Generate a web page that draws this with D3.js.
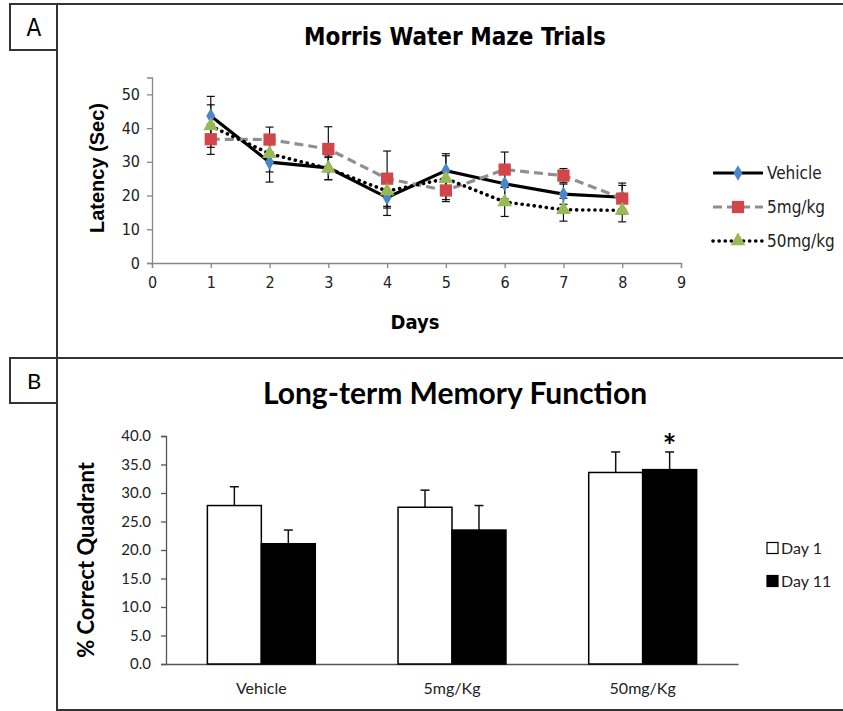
<!DOCTYPE html>
<html>
<head>
<meta charset="utf-8">
<script src="https://cdn.jsdelivr.net/npm/d3@7"></script>
<style>
  body { margin: 0; background: #fff; }
  .narrow { font-family: 'Liberation Sans Narrow', 'DejaVu Sans Condensed', sans-serif; }
  .calib { font-family: Lato, 'Open Sans', sans-serif; }
</style>
</head>
<body>
<svg id="fig" width="843" height="711"></svg>
<script>
// ------------------------------------
// Data: panel A (latency per day)
// ------------------------------------
const days = [1, 2, 3, 4, 5, 6, 7, 8];
const vehicle    = [43.6, 29.9, 28.2, 19.4, 27.4, 23.5, 20.4, 19.5];
const vehicleErr = [5.8, 5.9, 3.5, 5.3, 5.0, 4.5, 3.0, 3.5];
const mg5        = [36.7, 36.6, 33.8, 25.0, 21.5, 27.7, 25.9, 19.1];
const mg5Err     = [4.5, 3.7, 6.6, 8.2, 2.7, 5.2, 2.1, 4.6];
const mg50       = [40.6, 32.4, 28.0, 21.3, 25.0, 18.1, 15.8, 15.6];
const mg50Err    = [6.3, 5.4, 3.3, 5.0, 6.8, 4.3, 3.4, 3.4];
const seriesNames = ["Vehicle", "5mg/kg", "50mg/kg"];
const latencyTicks = [0, 10, 20, 30, 40, 50];
const dayTicks = [0, 1, 2, 3, 4, 5, 6, 7, 8, 9];

// ------------------------------------
// Data: panel B (memory function)
// ------------------------------------
const groups = ["Vehicle", "5mg/Kg", "50mg/Kg"];
const sessions = ["Day 1", "Day 11"];
const day1Vals  = [27.8, 27.5, 33.6];
const day1Err   = [3.3, 3.0, 3.6];
const day11Vals = [21.1, 23.5, 34.1];
const day11Err  = [2.4, 4.3, 3.1];
const pctTicks = [0, 5, 10, 15, 20, 25, 30, 35, 40];

const svg = d3.select("#fig");
const frame = "#333";

// ------------------------------------
// Frames and panel labels
// ------------------------------------
svg.append("path")
  .attr("d", "M10,4 H843 M57,4 V710 H843 M10,358 H843")
  .attr("fill", "none").attr("stroke", frame).attr("stroke-width", 2);
svg.append("rect").attr("x", 10).attr("y", 4).attr("width", 47).attr("height", 46)
  .attr("fill", "none").attr("stroke", frame).attr("stroke-width", 2);
svg.append("rect").attr("x", 10).attr("y", 358).attr("width", 47).attr("height", 45)
  .attr("fill", "none").attr("stroke", frame).attr("stroke-width", 2);
svg.append("text").attr("class", "narrow").attr("x", 34).attr("y", 36)
  .attr("text-anchor", "middle").attr("font-size", 24).text("A");
svg.append("text").attr("class", "calib").attr("x", 34).attr("y", 389)
  .attr("text-anchor", "middle").attr("font-size", 22).text("B");

// ------------------------------------
// Panel A: line chart
// ------------------------------------
const gA = svg.append("g");
const x = d3.scaleLinear().domain([0, 9]).range([152, 681]);
const y = d3.scaleLinear().domain([0, 55]).range([263, 77.5]);
const axisCol = "#868686";

gA.append("text").attr("class", "narrow").attr("x", 455).attr("y", 45)
  .attr("text-anchor", "middle").attr("font-size", 24).attr("font-weight", "bold")
  .text("Morris Water Maze Trials");

const yAxA = gA.append("g").attr("transform", `translate(${x(0)},0)`)
  .call(d3.axisLeft(y).tickValues(latencyTicks).tickSize(5).tickPadding(7));
const xAxA = gA.append("g").attr("transform", `translate(0,${y(0)})`)
  .call(d3.axisBottom(x).tickValues(dayTicks).tickSize(5).tickPadding(9));
[yAxA, xAxA].forEach(a => {
  a.select(".domain").attr("stroke", axisCol).attr("stroke-width", 1.3);
  a.selectAll(".tick line").attr("stroke", axisCol).attr("stroke-width", 1.3);
  a.selectAll("text").attr("class", "narrow").attr("font-size", 16).attr("fill", "#222");
});

gA.append("text").attr("x", 415).attr("y", 329).attr("class", "narrow")
  .attr("text-anchor", "middle").attr("font-size", 20).attr("font-weight", "bold").text("Days");
gA.append("text").attr("transform", "translate(104,168) rotate(-90)")
  .attr("text-anchor", "middle").attr("font-family", "'Liberation Sans', Arial, sans-serif")
  .attr("font-size", 20).attr("font-weight", "bold").text("Latency (Sec)");

const seriesA = [
  { name: seriesNames[0], vals: vehicle, err: vehicleErr, stroke: "#000", dash: null, cap: "butt", marker: d3.symbolDiamond, size: 70, fill: "#4a86c8" },
  { name: seriesNames[1], vals: mg5, err: mg5Err, stroke: "#8f8f8f", dash: "9,5", cap: "butt", marker: d3.symbolSquare, size: 150, fill: "#d0464a" },
  { name: seriesNames[2], vals: mg50, err: mg50Err, stroke: "#000", dash: "0.1,6", cap: "round", marker: d3.symbolTriangle, size: 95, fill: "#98b954" }
];

const line = d3.line().x(d => x(d.day)).y(d => y(d.val));

// error bars first
seriesA.forEach(s => {
  const pts = days.map((d, i) => ({ day: d, val: s.vals[i], err: s.err[i] }));
  const eb = gA.append("g").attr("stroke", "#111").attr("stroke-width", 1.2);
  pts.forEach(p => {
    eb.append("line").attr("x1", x(p.day)).attr("x2", x(p.day))
      .attr("y1", y(p.val - p.err)).attr("y2", y(p.val + p.err));
    [p.val - p.err, p.val + p.err].forEach(v => {
      eb.append("line").attr("x1", x(p.day) - 4).attr("x2", x(p.day) + 4)
        .attr("y1", y(v)).attr("y2", y(v));
    });
  });
});

// lines
seriesA.forEach(s => {
  const pts = days.map((d, i) => ({ day: d, val: s.vals[i] }));
  gA.append("path").datum(pts)
    .attr("fill", "none").attr("stroke", s.stroke)
    .attr("stroke-width", s.cap === "round" ? 3.6 : 3.2)
    .attr("stroke-dasharray", s.dash).attr("stroke-linecap", s.cap)
    .attr("d", line);
});

// markers
seriesA.forEach(s => {
  const pts = days.map((d, i) => ({ day: d, val: s.vals[i] }));
  gA.selectAll(null).data(pts).join("path")
    .attr("transform", d => `translate(${x(d.day)},${y(d.val)})`)
    .attr("d", d3.symbol().type(s.marker).size(s.size))
    .attr("fill", s.fill);
});

// legend A
const legA = gA.append("g");
seriesA.forEach((s, i) => {
  const ly = 173 + i * 34;
  legA.append("line").attr("x1", 713).attr("x2", 763).attr("y1", ly).attr("y2", ly)
    .attr("stroke", s.stroke).attr("stroke-width", s.cap === "round" ? 3.6 : 3.2)
    .attr("stroke-dasharray", s.dash).attr("stroke-linecap", s.cap);
  legA.append("path").attr("transform", `translate(738,${ly})`)
    .attr("d", d3.symbol().type(s.marker).size(s.size)).attr("fill", s.fill);
  legA.append("text").attr("class", "narrow").attr("x", 767).attr("y", ly + 6)
    .attr("font-size", 17).attr("fill", "#222").text(s.name);
});

// ------------------------------------
// Panel B: grouped bars
// ------------------------------------
const gB = svg.append("g");
const xb = d3.scaleBand().domain(groups).range([166, 738]).paddingInner(0.434).paddingOuter(0.217);
const xs = d3.scaleBand().domain(sessions).range([0, xb.bandwidth()]);
const yb = d3.scaleLinear().domain([0, 40]).range([664, 436]);

gB.append("text").attr("class", "calib").attr("x", 455).attr("y", 404)
  .attr("text-anchor", "middle").attr("font-size", 30).attr("font-weight", "bold")
  .text("Long-term Memory Function");

const yAxB = gB.append("g").attr("transform", `translate(${xb.range()[0]},0)`)
  .call(d3.axisLeft(yb).tickValues(pctTicks).tickFormat(d3.format(".1f")).tickSize(5).tickPadding(10));
yAxB.select(".domain").attr("stroke", "#555").attr("stroke-width", 1.3);
yAxB.selectAll(".tick line").attr("stroke", "#555").attr("stroke-width", 1.3);
yAxB.selectAll("text").attr("class", "calib").attr("font-size", 15).attr("fill", "#222");

const xAxB = gB.append("g").attr("transform", `translate(0,${yb(0)})`)
  .call(d3.axisBottom(xb).tickSize(0).tickPadding(19));
xAxB.select(".domain").attr("stroke", "#555").attr("stroke-width", 1.3);
xAxB.selectAll("text").attr("class", "calib").attr("font-size", 16).attr("fill", "#222");

gB.append("text").attr("class", "calib").attr("transform", "translate(94,560) rotate(-90)")
  .attr("text-anchor", "middle").attr("font-size", 22).attr("font-weight", "bold")
  .text("% Correct Quadrant");

const barRows = [];
groups.forEach((g, i) => {
  barRows.push({ group: g, session: sessions[0], val: day1Vals[i], err: day1Err[i] });
  barRows.push({ group: g, session: sessions[1], val: day11Vals[i], err: day11Err[i] });
});

// error bars (upper only)
const ebB = gB.append("g").attr("stroke", "#111").attr("stroke-width", 1.5);
barRows.forEach(d => {
  const cx = xb(d.group) + xs(d.session) + xs.bandwidth() / 2;
  ebB.append("line").attr("x1", cx).attr("x2", cx).attr("y1", yb(d.val)).attr("y2", yb(d.val + d.err));
  ebB.append("line").attr("x1", cx - 4.5).attr("x2", cx + 4.5).attr("y1", yb(d.val + d.err)).attr("y2", yb(d.val + d.err));
});

gB.selectAll(".bar").data(barRows).join("rect")
  .attr("class", "bar")
  .attr("x", d => xb(d.group) + xs(d.session))
  .attr("width", xs.bandwidth())
  .attr("y", d => yb(d.val))
  .attr("height", d => yb(0) - yb(d.val))
  .attr("fill", d => d.session === sessions[0] ? "#fff" : "#000")
  .attr("stroke", "#000").attr("stroke-width", 1.5);

// significance star
const star = barRows[5];
gB.append("text").attr("class", "calib")
  .attr("x", xb(star.group) + xs(star.session) + xs.bandwidth() / 2)
  .attr("y", yb(star.val + star.err) + 6)
  .attr("text-anchor", "middle").attr("font-size", 32).attr("font-weight", "bold").text("*");

// legend B
sessions.forEach((s, i) => {
  const ly = 548 + i * 33;
  gB.append("rect").attr("x", 767).attr("y", ly - 5.5).attr("width", 11).attr("height", 11)
    .attr("fill", i === 0 ? "#fff" : "#000").attr("stroke", "#000").attr("stroke-width", 1.2);
  gB.append("text").attr("class", "calib").attr("x", 781).attr("y", ly + 5.5)
    .attr("font-size", 16).attr("fill", "#222").text(s);
});
</script>
</body>
</html>
